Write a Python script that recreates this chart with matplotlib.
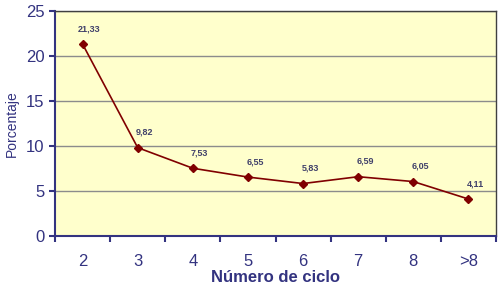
import matplotlib.pyplot as plt
import numpy as np

ciclos = ['2', '3', '4', '5', '6', '7', '8', '>8']
porcentajes = [21.33, 9.82, 7.53, 6.55, 5.83, 6.59, 6.05, 4.11]
etiquetas = ['21,33', '9,82', '7,53', '6,55', '5,83', '6,59', '6,05', '4,11']

azul = '#333380'
plt.rcParams['font.family'] = ['Liberation Sans', 'DejaVu Sans']

fig = plt.figure(figsize=(5, 2.91), dpi=100)
ax = fig.add_axes([0.11, 0.189, 0.882, 0.773])
ax.set_facecolor('#FFFFCC')

x = np.arange(len(ciclos))
ax.plot(x, porcentajes, color='#800000', marker='D', markersize=4.5, linewidth=1.2)

for xi, yi, txt in zip(x, porcentajes, etiquetas):
    ax.annotate(txt, (xi, yi), xytext=(5, 11), textcoords='offset points',
                ha='center', va='center', fontsize=6.5, fontweight='bold', color='#40406a')

ax.set_xlim(-0.5, len(ciclos) - 0.5)
ax.set_ylim(0, 25)
ax.set_yticks([0, 5, 10, 15, 20, 25])
ax.yaxis.grid(True, color='#8c8c8c', linewidth=1)
ax.set_axisbelow(True)

# categorias: texto en el centro, marcas entre categorias
ax.set_xticks(x)
ax.set_xticklabels(ciclos)
ax.set_xticks(np.arange(-0.5, len(ciclos)), minor=True)
ax.tick_params(axis='x', which='major', length=0, pad=13, labelsize=12, labelcolor=azul)
ax.tick_params(axis='x', which='minor', length=4, width=1.5, direction='out', color=azul)
ax.tick_params(axis='y', length=4, width=1.5, direction='out', color=azul, labelsize=12, labelcolor=azul)

for s in ['left', 'bottom']:
    ax.spines[s].set_color(azul)
    ax.spines[s].set_linewidth(1.5)
for s in ['top', 'right']:
    ax.spines[s].set_color('#404040')
    ax.spines[s].set_linewidth(1)

ax.set_xlabel('Número de ciclo', fontsize=12, fontweight='bold', color=azul, labelpad=1)
ax.set_ylabel('Porcentaje', fontsize=10, color=azul, labelpad=5)

fig.savefig('out.png', dpi=100)
